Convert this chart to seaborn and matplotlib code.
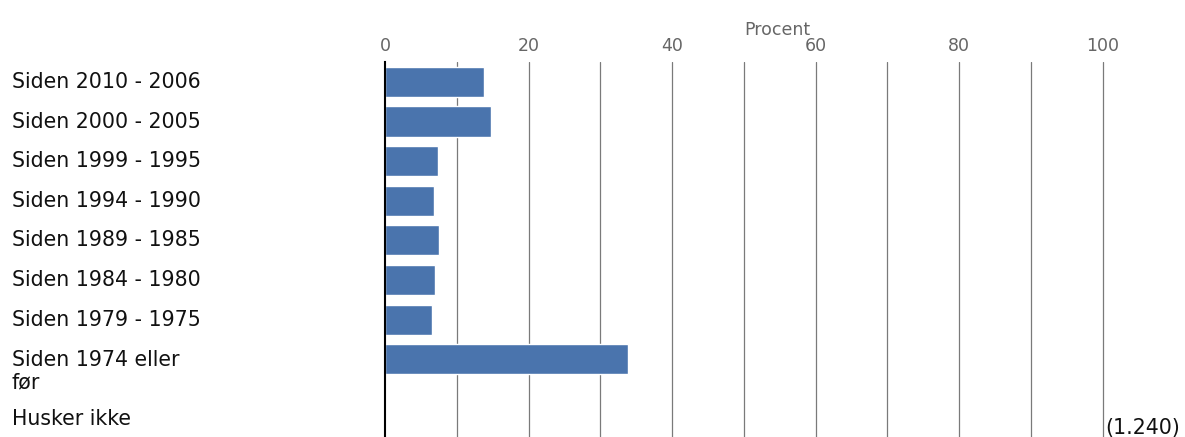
import matplotlib
matplotlib.use("Agg")
import matplotlib.pyplot as plt
import matplotlib.transforms as mtransforms
import seaborn as sns
import pandas as pd

# data
categories = ["Siden 2010 - 2006", "Siden 2000 - 2005", "Siden 1999 - 1995",
              "Siden 1994 - 1990", "Siden 1989 - 1985", "Siden 1984 - 1980",
              "Siden 1979 - 1975", "Siden 1974 eller\nfør", "Husker ikke"]
values = [13.8, 14.8, 7.4, 6.8, 7.5, 7.0, 6.5, 33.8, 0.1]
major_ticks = [0, 20, 40, 60, 80, 100]
grid_ticks = [10, 30, 50, 70, 90]
total_n = "(1.240)"

df = pd.DataFrame({"label": categories, "pct": values})

sns.set_style("white")
plt.rcParams["font.family"] = ["DejaVu Sans"]

fig = plt.figure(figsize=(11.85, 4.37), dpi=100)
ax = fig.add_axes([0.325, 0.0, 0.675, 0.858])

sns.barplot(data=df, x="pct", y="label", orient="h", color="#4a74ad",
            saturation=1, width=0.76, ax=ax, zorder=3)

ax.set_xlim(0, 111.5)
ax.set_ylim(8.96, -0.5)

# grid lines every 10
for t in major_ticks[1:] + grid_ticks:
    ax.axvline(t, color="#7a7a7a", lw=0.9, zorder=1)

ax.xaxis.tick_top()
ax.set_xticks(major_ticks)
ax.tick_params(axis="x", length=0, pad=5, labelsize=12.5, labelcolor="#666666")
ax.set_xlabel("")
ax.set_ylabel("")
ax.set_yticks([])

for side in ["top", "right", "bottom"]:
    ax.spines[side].set_visible(False)
ax.spines["left"].set_color("black")
ax.spines["left"].set_linewidth(1.5)
ax.spines["left"].set_zorder(4)

ax.text(50, -1.31, "Procent", fontsize=12.5, color="#666666",
        ha="left", va="center")

# category labels on the left of the figure; the two-line label pushes the next row down
trans = mtransforms.blended_transform_factory(fig.transFigure, ax.transData)
shift = 0
for i, lab in enumerate(categories):
    off = 0.3 if "\n" in lab else shift
    ax.text(0.01, i + off, lab, transform=trans, ha="left", va="center",
            fontsize=14.8, color="#111111", linespacing=1.15)
    if "\n" in lab:
        shift = 0.5

fig.text(0.933, 0.021, total_n, fontsize=14.8, color="#111111", ha="left", va="center")

fig.savefig("out.png", dpi=100)
